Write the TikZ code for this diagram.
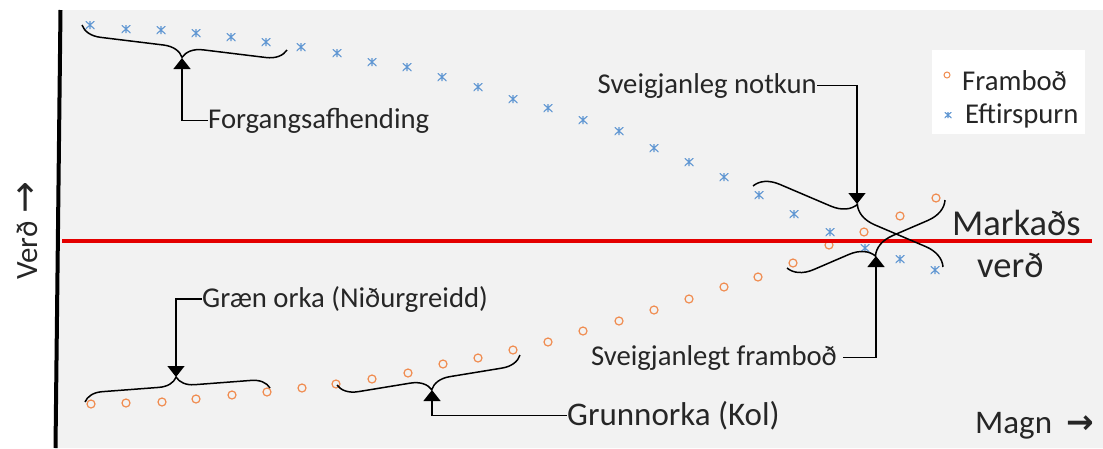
\documentclass[tikz,border=0pt]{standalone}
\usepackage{fontspec}
\setmainfont{Carlito}
\newfontfamily\arrowfont{DejaVu Sans}
\usetikzlibrary{arrows.meta,decorations.pathreplacing}
\definecolor{bgc}{RGB}{242,242,242}
\definecolor{demc}{RGB}{95,150,210}
\definecolor{supc}{RGB}{240,140,80}
\definecolor{txt}{RGB}{38,38,38}
\definecolor{mktc}{RGB}{228,0,0}
\tikzset{
lbl/.style={font=\fontsize{28.7}{30}\selectfont, text=txt, inner sep=0pt},
big/.style={font=\fontsize{36.5}{38}\selectfont, text=txt, inner sep=0pt},
sup/.style={circle, draw=supc, line width=1.2pt, minimum size=8pt, inner sep=0pt},
dem/.style={minimum width=9pt, minimum height=8pt, inner sep=0pt,
  path picture={\draw[demc, line width=1.1pt]
    (path picture bounding box.north) -- (path picture bounding box.south)
    (path picture bounding box.north west) -- (path picture bounding box.south east)
    (path picture bounding box.north east) -- (path picture bounding box.south west);}},
brc/.style={decorate, decoration={brace, amplitude=#1}, line width=1.5pt},
pointer/.style={line width=1.3pt, -{Triangle[width=17pt,length=11pt]}}
}

\begin{document}
\begin{tikzpicture}[x=1pt, y=-1pt]
\useasboundingbox (0,0) rectangle (1103,448);
\fill[bgc] (60,10) -- (1103,10) -- (1103,448) -- (56,448) -- cycle;
\fill[white] (932,50) rectangle (1085,134);
\draw[line width=4pt] (60.5,10) -- (55.5,448);

\foreach \x/\y [count=\i] in {90/25,126/29,161/30,196/33,231/37,266/42,301/47,337/53,
  372/62,407/67,442/77,478/87,513/99,548/108,583/120,619/131,654/148,689/162,
  724/177,759/195,794/214,830/232,865/248,900/259,935/270}
  \node[dem] (d\i) at (\x,\y) {};
\foreach \x/\y [count=\i] in {91/404,126/403,162/402,196/399,232/395,267/392,302/388,
  336/384,372/379,408/373,443/364,478/358,513/350,548/342,583/331,619/321,654/310,
  689/299,724/287,758/277,793/263,829/245,864/232,900/216,936/198}
  \node[sup] (s\i) at (\x,\y) {};

\draw[mktc, line width=4.5pt] (62,241) -- (1092,241);

\node[sup, minimum size=6pt, line width=1pt] (legs) at (947,75) {};
\node[lbl, anchor=base west] (legsup) at (962,90) {Framboð};
\node[dem, minimum width=7pt, minimum height=6pt] (legd) at (948,115) {};
\node[lbl, anchor=base west] (legdem) at (965,123) {Eftirspurn};

\draw[brc=20] (287,50) -- (82,25);
\draw[brc=24] (753,186) -- (943,267);
\draw[brc=24] (945,200) -- (787,268);
\draw[brc=18] (85,402) -- (270,388);
\draw[brc=20] (520,355) -- (337,385);

\coordinate (forgtip) at (182,58);
\coordinate (notkuntip) at (857,204);
\coordinate (frambtip) at (876,256);
\coordinate (graentip) at (176,377);
\coordinate (grunntip) at (432,390);

\node[lbl, anchor=base west] (forg) at (208,128) {Forgangsafhending};
\node[lbl, anchor=base east] (notkun) at (817,93) {Sveigjanleg notkun};
\node[lbl, anchor=base east] (framb) at (837,365) {Sveigjanlegt framboð};
\node[lbl, anchor=base west] (graen) at (202,307) {Græn orka (Niðurgreidd)};
\node[lbl, anchor=base west, font=\fontsize{33}{35}\selectfont] (grunn) at (567,425) {Grunnorka (Kol)};

\draw[pointer] (forg.west) -| (forgtip);
\draw[pointer] (notkun.east) -| (notkuntip);
\draw[pointer] ([xshift=6pt]framb.east) -| (frambtip);
\draw[pointer] (graen.west) -| (graentip);
\draw[pointer] (grunn.west) -| (grunntip);

\node[big, anchor=base west] (markad) at (952,235) {Markaðs};
\node[big, anchor=base west] (verd) at (977,277) {verð};
\node[lbl, anchor=base west, font=\fontsize{33}{35}\selectfont] (magn) at (975,433)
  {Magn\hspace{0.45em}{\arrowfont\bfseries →}};
\node[lbl, anchor=base west, rotate=90, font=\fontsize{31}{33}\selectfont] (verdax) at (37,280)
  {Verð\hspace{0.25em}{\arrowfont\fontsize{38}{38}\selectfont →}};
\end{tikzpicture}
\end{document}
